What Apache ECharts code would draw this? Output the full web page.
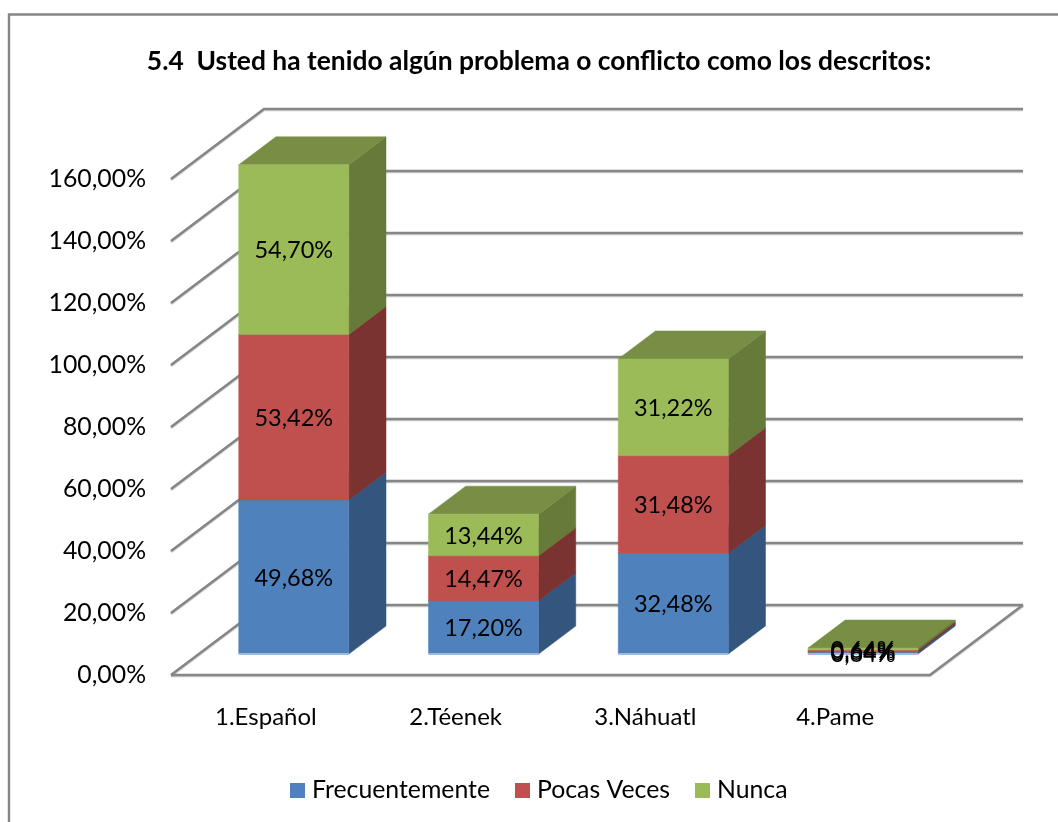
<!DOCTYPE html>
<html><head><meta charset="utf-8">
<style>html,body{margin:0;padding:0;background:#fff;overflow:hidden}#c{width:1058px;height:822px}</style>
<script src="https://cdn.jsdelivr.net/npm/echarts@6/dist/echarts.min.js"></script>
</head><body><div id="c"></div>
<script>
const categories = ['1.Español','2.Téenek','3.Náhuatl','4.Pame'];
const frecuentemente = [49.68,17.20,32.48,0.64];
const pocasVeces = [53.42,14.47,31.48,0.64];
const nunca = [54.70,13.44,31.22,0.64];
const ticks = [0,20,40,60,80,100,120,140,160];
const seriesNames = ['Frecuentemente','Pocas Veces','Nunca'];
const seriesValues = [frecuentemente,pocasVeces,nunca];
const palette = [
  {front:'#4f81bd',side:'#34567e',top:'#3f6797'},
  {front:'#c0504d',side:'#7a3331',top:'#9a403e'},
  {front:'#9bbb59',side:'#667a39',top:'#778e44'}
];
const FONT = 'Lato, Carlito, "Open Sans", sans-serif';
const WALL = {dx:93,dy:70};
const BAR_NEAR = 0.3, BAR_FAR = 0.7, BAR_W = 0.58;
const fmt = v => v.toFixed(2).replace('.',',')+'%';

const chart = echarts.init(document.getElementById('c'));
const line = (pts,w) => ({type:'polyline',shape:{points:pts},silent:true,
  style:{stroke:'#868686',lineWidth:w||2.6,fill:null,shadowColor:'rgba(0,0,0,0.2)',shadowBlur:1,shadowOffsetY:1}});

function renderWall(params,api){
  const v = api.value(0);
  const band = api.size([1,0])[0];
  const last = categories.length-1;
  const a = api.coord([0,v]), b = api.coord([last,v]);
  const L = a[0]-band/2, R = b[0]+band/2, y = a[1];
  const children = [line([[L,y],[L+WALL.dx,y-WALL.dy],[R+WALL.dx,y-WALL.dy]])];
  if(v===0) children.push(line([[L,y],[R,y],[R+WALL.dx,y-WALL.dy]]));
  return {type:'group',children};
}
function barGeom(api){
  const c = api.value(0), base = api.value(1), val = api.value(2);
  const band = api.size([1,0])[0], w = band*BAR_W;
  const ox = WALL.dx*BAR_NEAR, oy = WALL.dy*BAR_NEAR;
  const p0 = api.coord([c,base]), p1 = api.coord([c,base+val]);
  const x0 = p0[0]+ox-w/2;
  return {x0,x1:x0+w,w,yb:p0[1]-oy,yt:p1[1]-oy,val,
    dx:WALL.dx*(BAR_FAR-BAR_NEAR),dy:WALL.dy*(BAR_FAR-BAR_NEAR)};
}
function makeBar(si){
  return function(params,api){
    const {x0,x1,w,yb,yt,dx,dy} = barGeom(api);
    const col = palette[si];
    const poly = (pts,fill)=>({type:'polygon',shape:{points:pts},style:{fill,stroke:fill,lineWidth:0.5}});
    const kids = [
      poly([[x1,yb],[x1+dx,yb-dy],[x1+dx,yt-dy],[x1,yt]],col.side),
      poly([[x0,yt],[x1,yt],[x1+dx,yt-dy],[x0+dx,yt-dy]],col.top),
      poly([[x0,yb],[x1,yb],[x1,yt],[x0,yt]],col.front)
    ];
    if(si===0) kids.push({type:'rect',shape:{x:x0,y:yb-1,width:w,height:2},style:{fill:'#9dbbe0'}});
    return {type:'group',children:kids};
  };
}
function renderLabel(params,api){
  const {x0,x1,yb,yt,val} = barGeom(api);
  return {type:'text',style:{text:fmt(val),x:(x0+x1)/2,y:(yb+yt)/2+1,align:'center',verticalAlign:'middle',
    fill:'#000',font:'23.5px '+FONT}};
}
const rows = si => categories.map((_,i)=>{
  let base=0; for(let k=0;k<si;k++) base+=seriesValues[k][i];
  return [i,base,seriesValues[si][i]];
});
const barSeries = seriesNames.map((name,si)=>({
  name,type:'custom',z:3+si,clip:false,
  itemStyle:{color:palette[si].front},
  renderItem:makeBar(si),
  encode:{x:0,y:[1,2]},
  data:rows(si)
}));
const labelSeries = seriesNames.map((name,si)=>({
  name:name+' etiqueta',type:'custom',z:10,clip:false,silent:true,
  renderItem:renderLabel,encode:{x:0,y:[1,2]},data:rows(si)
}));
chart.setOption({
  animation:false,
  backgroundColor:'#fff',
  textStyle:{fontFamily:FONT},
  title:{text:'5.4  Usted ha tenido algún problema o conflicto como los descritos:',
    left:534,top:43,textAlign:'center',
    textStyle:{fontFamily:FONT,fontSize:26.4,fontWeight:'bold',color:'#000'}},
  legend:{data:seriesNames,left:285,top:773,icon:'rect',itemWidth:15,itemHeight:15,itemGap:25,
    textStyle:{fontFamily:FONT,fontSize:24.8,color:'#000',padding:[0,0,0,2]}},
  grid:{left:171,top:179,width:759,height:496},
  xAxis:{type:'category',data:categories,axisLine:{show:false},axisTick:{show:false},
    axisLabel:{fontFamily:FONT,fontSize:24,color:'#000',margin:30}},
  yAxis:{type:'value',min:0,max:160,interval:20,axisLine:{show:false},axisTick:{show:false},splitLine:{show:false},
    axisLabel:{fontFamily:FONT,fontSize:24.8,color:'#000',margin:25,padding:[2,0,0,0],formatter:v=>fmt(v)}},
  graphic:[{type:'polyline',z:1,silent:true,shape:{points:[[9,822],[9,14.5],[1058,14.5]]},
    style:{fill:null,stroke:'#868686',lineWidth:2.4}}],
  series:[{type:'custom',name:'wall',z:2,clip:false,renderItem:renderWall,encode:{y:0},
      data:ticks.map(t=>[t]),silent:true}].concat(barSeries,labelSeries)
});
</script></body></html>
